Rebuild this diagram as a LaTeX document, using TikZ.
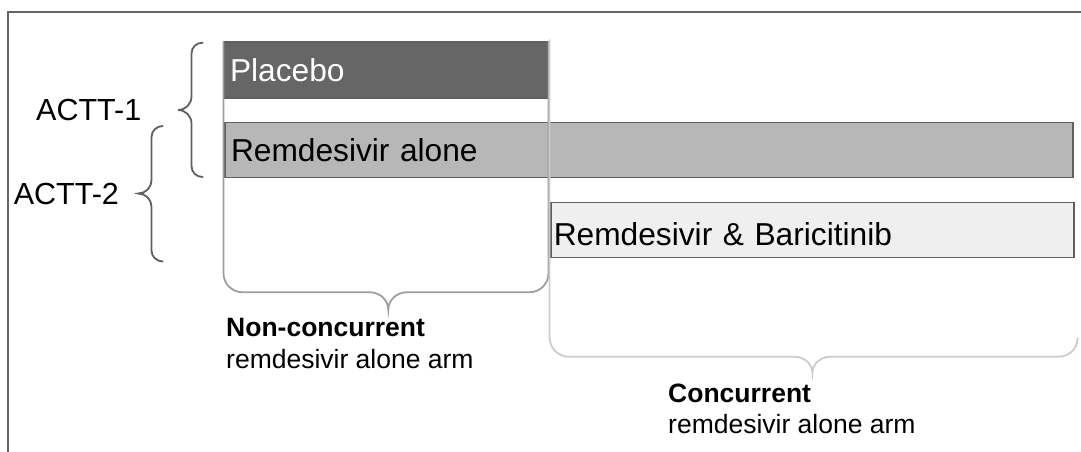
\documentclass[tikz,border=0pt]{standalone}
\usepackage{fontspec}
\setmainfont{Liberation Sans}
\definecolor{framec}{HTML}{666666}
\definecolor{boxedge}{HTML}{5F5F5F}
\definecolor{placebof}{HTML}{666666}
\definecolor{remf}{HTML}{B7B7B7}
\definecolor{barf}{HTML}{EFEFEF}
\definecolor{bracedark}{HTML}{5F5F5F}
\definecolor{bracemid}{HTML}{9E9E9E}
\definecolor{bracelight}{HTML}{CCCCCC}
\begin{document}
\begin{tikzpicture}[x=1pt,y=-1pt,
  armbox/.style={draw=boxedge, line width=1.8pt, anchor=center, inner ysep=0pt,
    align=left, font=\fontsize{31.7}{36}\selectfont, text height=22pt, text depth=0pt},
  studylbl/.style={anchor=base west, inner sep=0pt, font=\fontsize{30.5}{36}\selectfont},
  boldlbl/.style={anchor=base west, inner sep=0pt, font=\fontsize{26.5}{32}\selectfont\bfseries},
  plainlbl/.style={anchor=base west, inner sep=0pt, font=\fontsize{26.5}{32}\selectfont},
  bracepath/.style={line width=1.8pt, line cap=round}
]
\useasboundingbox (0,0) rectangle (1081,452);
% frame
\draw[framec, line width=1.5pt] (8,460) -- (8,12) -- (1090,12);

% arm boxes
\node[armbox, fill=placebof, text=white, minimum width=324pt, minimum height=56pt,
      inner xsep=6pt, text width=312pt, text height=23pt] (placebo) at (386,70) {Placebo};
\node[armbox, fill=remf, minimum width=848pt, minimum height=55pt,
      inner xsep=6pt, text width=836pt] (remalone) at (649,150) {Remdesivir alone};
\node[armbox, fill=barf, minimum width=523pt, minimum height=55pt,
      inner xsep=3pt, text width=517pt, text height=31pt] (rembari) at (812.3,230) {Remdesivir \& Baricitinib};

% study labels
\node[studylbl] (actt1) at (36,120.3) {ACTT-1};
\node[studylbl] (actt2) at (13.6,204) {ACTT-2};

% study braces
\draw[bracedark, bracepath] (202.7,42.7) .. controls (196.5,42.7) and (191.5,47) .. (191.5,53.7)
  -- (191.5,96.5) .. controls (191.5,104) and (185.5,110) .. (178,110)
  .. controls (185.5,110) and (191.5,116) .. (191.5,123.5)
  -- (191.5,166) .. controls (191.5,172.5) and (196.5,177) .. (202.7,177);
\draw[bracedark, bracepath] (162.7,126) .. controls (156.5,126) and (151.5,131) .. (151.5,137)
  -- (151.5,180.3) .. controls (151.5,187.5) and (145.5,193.5) .. (138.3,193.5)
  .. controls (145.5,193.5) and (151.5,199.5) .. (151.5,206.7)
  -- (151.5,250.5) .. controls (151.5,256.5) and (156.5,261.5) .. (162.7,261.5);

% bottom braces
\draw[bracemid, bracepath] (223.5,42) -- (223.5,273) .. controls (223.5,284) and (232,292.3) .. (243,292.3)
  -- (370,292.3) .. controls (380,292.3) and (388.3,300) .. (388.3,310)
  .. controls (388.3,300) and (396.6,292.3) .. (406.6,292.3)
  -- (529,292.3) .. controls (540,292.3) and (548.5,284) .. (548.5,273) -- (548.5,42);
\draw[bracelight, bracepath] (549.5,40) -- (549.5,337) .. controls (549.5,348) and (558,356.7) .. (569,356.7)
  -- (794.4,356.7) .. controls (804.4,356.7) and (812.4,364) .. (812.4,373.3)
  .. controls (812.4,364) and (820.4,356.7) .. (830.4,356.7)
  -- (1058,356.7) .. controls (1069,356.7) and (1077.5,349) .. (1077.5,338);

% bottom labels
\node[boldlbl] (nc1) at (226,336.7) {Non-concurrent};
\node[plainlbl] (nc2) at (226,368) {remdesivir alone arm};
\node[boldlbl] (cc1) at (668,402) {Concurrent};
\node[plainlbl] (cc2) at (668,433) {remdesivir alone arm};
\end{tikzpicture}
\end{document}
